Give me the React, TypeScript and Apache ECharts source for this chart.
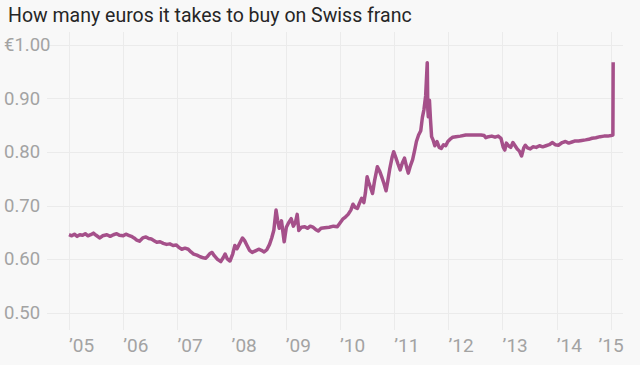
import React, { useEffect, useRef } from "react";
import * as echarts from "echarts";

const TITLE = "How many euros it takes to buy on Swiss franc";
const yTicks = [0.5, 0.6, 0.7, 0.8, 0.9, 1.0];
const yearTicks = [2005, 2006, 2007, 2008, 2009, 2010, 2011, 2012, 2013, 2014, 2015];

// decimal years
const dates = [
  2005.00, 2005.05, 2005.10, 2005.15, 2005.20, 2005.25, 2005.30, 2005.35, 2005.40, 2005.45,
  2005.50, 2005.57, 2005.62, 2005.70, 2005.76, 2005.82, 2005.88, 2005.93, 2006.00, 2006.05,
  2006.10, 2006.15, 2006.20, 2006.25, 2006.30, 2006.36, 2006.42, 2006.47, 2006.52, 2006.57,
  2006.62, 2006.68, 2006.74, 2006.80, 2006.86, 2006.92, 2006.98, 2007.03, 2007.08, 2007.14,
  2007.20, 2007.25, 2007.30, 2007.36, 2007.42, 2007.48, 2007.52, 2007.56, 2007.60, 2007.64,
  2007.68, 2007.74, 2007.80, 2007.85, 2007.88, 2007.92, 2007.97, 2008.02, 2008.06, 2008.10,
  2008.14, 2008.20, 2008.24, 2008.28, 2008.33, 2008.38, 2008.44, 2008.50, 2008.55, 2008.60,
  2008.65, 2008.70, 2008.74, 2008.78, 2008.82, 2008.85, 2008.88, 2008.92, 2008.97, 2009.01,
  2009.05, 2009.10, 2009.14, 2009.18, 2009.21, 2009.24, 2009.29, 2009.35, 2009.40, 2009.45,
  2009.50, 2009.55, 2009.60, 2009.65, 2009.72, 2009.80, 2009.88, 2009.95, 2010.00, 2010.05,
  2010.10, 2010.15, 2010.20, 2010.24, 2010.28, 2010.32, 2010.36, 2010.40, 2010.44, 2010.47,
  2010.50, 2010.53, 2010.56, 2010.60, 2010.64, 2010.69, 2010.73, 2010.77, 2010.81, 2010.85,
  2010.88, 2010.92, 2010.96, 2010.99, 2011.03, 2011.07, 2011.11, 2011.15, 2011.19, 2011.23,
  2011.26, 2011.30, 2011.34, 2011.38, 2011.41, 2011.45, 2011.49, 2011.52, 2011.55, 2011.58,
  2011.61, 2011.62, 2011.63, 2011.65, 2011.67, 2011.69, 2011.72, 2011.75, 2011.79, 2011.83,
  2011.87, 2011.91, 2011.95, 2011.99, 2012.04, 2012.08, 2012.14, 2012.22, 2012.32, 2012.42,
  2012.52, 2012.60, 2012.66, 2012.69, 2012.74, 2012.80, 2012.86, 2012.92, 2012.97, 2013.01,
  2013.04, 2013.07, 2013.11, 2013.15, 2013.19, 2013.23, 2013.27, 2013.31, 2013.35, 2013.39,
  2013.42, 2013.46, 2013.51, 2013.56, 2013.62, 2013.68, 2013.74, 2013.80, 2013.86, 2013.92,
  2013.97, 2014.03, 2014.10, 2014.16, 2014.22, 2014.28, 2014.34, 2014.40, 2014.46, 2014.53,
  2014.59, 2014.65, 2014.72, 2014.80, 2014.87, 2014.94, 2015.00, 2015.035, 2015.04,
];

// euros per Swiss franc
const rates = [
  0.646, 0.644, 0.647, 0.643, 0.646, 0.645, 0.648, 0.644, 0.646, 0.649,
  0.645, 0.640, 0.644, 0.646, 0.643, 0.646, 0.648, 0.645, 0.644, 0.647,
  0.645, 0.643, 0.640, 0.636, 0.634, 0.640, 0.642, 0.639, 0.638, 0.635,
  0.632, 0.633, 0.630, 0.628, 0.629, 0.626, 0.627, 0.622, 0.619, 0.621,
  0.619, 0.614, 0.610, 0.608, 0.605, 0.603, 0.602, 0.606, 0.611, 0.613,
  0.607, 0.600, 0.596, 0.604, 0.610, 0.601, 0.597, 0.610, 0.626, 0.620,
  0.628, 0.640, 0.635, 0.627, 0.617, 0.613, 0.616, 0.619, 0.617, 0.614,
  0.618, 0.628, 0.640, 0.655, 0.692, 0.672, 0.658, 0.672, 0.633, 0.660,
  0.668, 0.676, 0.662, 0.670, 0.684, 0.654, 0.660, 0.661, 0.658, 0.662,
  0.660, 0.656, 0.653, 0.658, 0.659, 0.660, 0.662, 0.661, 0.668, 0.675,
  0.679, 0.684, 0.692, 0.703, 0.697, 0.695, 0.705, 0.714, 0.706, 0.725,
  0.754, 0.744, 0.735, 0.723, 0.748, 0.773, 0.765, 0.754, 0.742, 0.728,
  0.745, 0.770, 0.790, 0.801, 0.790, 0.778, 0.767, 0.780, 0.789, 0.772,
  0.761, 0.775, 0.786, 0.805, 0.820, 0.832, 0.840, 0.865, 0.880, 0.905,
  0.967, 0.880, 0.866, 0.897, 0.860, 0.829, 0.822, 0.812, 0.820, 0.809,
  0.807, 0.814, 0.812, 0.820, 0.825, 0.828, 0.829, 0.830, 0.832, 0.832,
  0.832, 0.832, 0.831, 0.827, 0.829, 0.830, 0.828, 0.830, 0.826, 0.810,
  0.804, 0.817, 0.812, 0.809, 0.818, 0.812, 0.806, 0.802, 0.793, 0.808,
  0.813, 0.808, 0.806, 0.810, 0.809, 0.812, 0.810, 0.812, 0.814, 0.818,
  0.814, 0.813, 0.818, 0.820, 0.817, 0.819, 0.821, 0.821, 0.822, 0.823,
  0.824, 0.826, 0.827, 0.829, 0.830, 0.830, 0.831, 0.832, 0.968,
];

const FONT = "Roboto, 'Noto Sans', sans-serif";
const LABEL_COLOR = "#a3a3a3";
const GRID_COLOR = "#ebebeb";
const LINE_COLOR = "#a5508a";

export default function App() {
  const ref = useRef<HTMLDivElement>(null);

  useEffect(() => {
    if (!ref.current) return;
    const chart = echarts.init(ref.current, null, { renderer: "svg" });
    // pixel mapping: year 2005 at x=69, 2015 at x=611 (grid A spans 47..623)
    const pxPerYear = (611 - 69) / 10;
    const xMinA = yearTicks[0] - (69 - 47) / pxPerYear;
    const xMaxA = yearTicks[yearTicks.length - 1] + (623 - 611) / pxPerYear;

    chart.setOption({
      animation: false,
      backgroundColor: "#f8f8f8",
      title: {
        text: TITLE,
        left: 3,
        top: 0,
        textStyle: { fontFamily: FONT, fontSize: 19.5, fontWeight: "normal", color: "#262626" },
      },
      grid: [
        { left: 47, right: 17, top: 45, height: 268 },
        { left: 69, width: 542, top: 32, height: 298 },
      ],
      xAxis: [
        {
          gridIndex: 0,
          type: "value",
          min: xMinA,
          max: xMaxA,
          show: false,
        },
        {
          gridIndex: 1,
          type: "value",
          min: yearTicks[0],
          max: yearTicks[yearTicks.length - 1],
          interval: 1,
          axisLine: { show: false },
          axisTick: { show: false },
          splitLine: { show: true, lineStyle: { color: GRID_COLOR, width: 1 } },
          axisLabel: {
            show: true,
            margin: 6,
            align: "left",
            alignMaxLabel: "center",
            fontFamily: FONT,
            fontSize: 19,
            color: LABEL_COLOR,
            formatter: (v: number) => "\u2019" + String(Math.round(v) % 100).padStart(2, "0"),
          },
        },
      ],
      yAxis: [
        {
          gridIndex: 0,
          type: "value",
          min: yTicks[0],
          max: yTicks[yTicks.length - 1],
          interval: 0.1,
          axisLine: { show: false },
          axisTick: { show: false },
          splitLine: { show: true, lineStyle: { color: GRID_COLOR, width: 1 } },
          axisLabel: {
            margin: 43,
            align: "left",
            fontFamily: FONT,
            fontSize: 18.5,
            color: LABEL_COLOR,
            formatter: (v: number) => (Math.abs(v - 1) < 1e-6 ? "\u20AC1.00" : v.toFixed(2)),
          },
        },
        {
          gridIndex: 1,
          type: "value",
          min: 0,
          max: 1,
          show: false,
        },
      ],
      series: [
        {
          type: "line",
          xAxisIndex: 0,
          yAxisIndex: 0,
          data: dates.map((d, i) => [d, rates[i]]),
          showSymbol: false,
          symbol: "none",
          lineStyle: { color: LINE_COLOR, width: 3.5, join: "round" },
          itemStyle: { color: LINE_COLOR },
          clip: false,
        },
      ],
    });
    return () => chart.dispose();
  }, []);

  return (
    <div
      ref={ref}
      style={{ position: "absolute", left: 0, top: 0, width: 640, height: 365 }}
    />
  );
}
